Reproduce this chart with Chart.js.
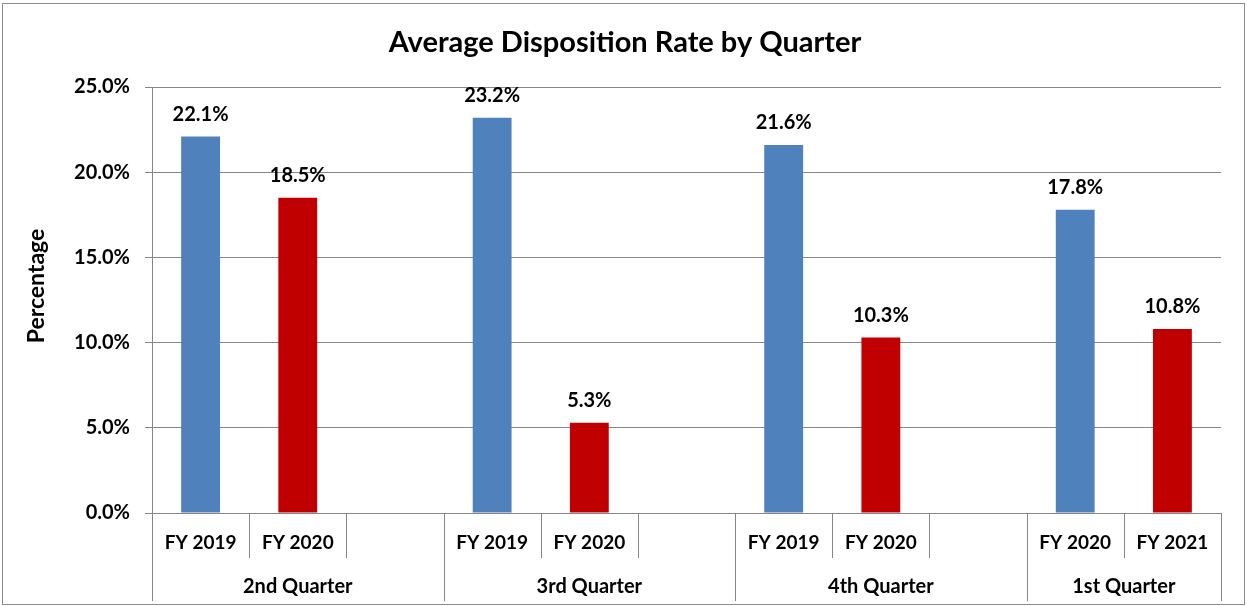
<!DOCTYPE html>
<html>
<head>
<meta charset="utf-8">
<script src="https://cdn.jsdelivr.net/npm/chart.js@4.4.1/dist/chart.umd.min.js"></script>
<style>
  html, body { margin: 0; padding: 0; background: #fff; }
  #wrap { width: 1247px; height: 606px; position: relative; }
</style>
</head>
<body>
<div id="wrap"><canvas id="chart"></canvas></div>
<script>
// --- Data ---
const chartTitle = 'Average Disposition Rate by Quarter';
const yAxisTitle = 'Percentage';
const fyLabels = ['FY 2019', 'FY 2020', '', 'FY 2019', 'FY 2020', '', 'FY 2019', 'FY 2020', '', 'FY 2020', 'FY 2021'];
const quarterLabels = ['2nd Quarter', '3rd Quarter', '4th Quarter', '1st Quarter'];
const quarterSpans = [3, 3, 3, 2];
const priorYearValues = [22.1, 23.2, 21.6, 17.8];
const currentYearValues = [18.5, 5.3, 10.3, 10.8];
const yTicks = [0, 5, 10, 15, 20, 25];

const FONT = 'Lato, "Open Sans", sans-serif';
const GRID = '#868686';

// spread the 4 quarter values onto the 11 category slots
function spread(values, slot) {
    const out = new Array(fyLabels.length).fill(null);
    let start = 0;
    quarterSpans.forEach((span, i) => {
        out[start + slot] = values[i];
        start += span;
    });
    return out;
}

// --- Plugins ---
const frameAndAxis = {
    id: 'frameAndAxis',
    afterDraw(chart) {
        const ctx = chart.ctx;
        const x = chart.scales.x;
        const area = chart.chartArea;
        const half = (x.getPixelForValue(1) - x.getPixelForValue(0)) / 2;

        ctx.save();
        // outer frame
        ctx.strokeStyle = '#8c8c8c';
        ctx.lineWidth = 1;
        ctx.strokeRect(2.5, 3.5, 1242, 601);

        // title
        ctx.fillStyle = '#000';
        ctx.font = 'bold 29px ' + FONT;
        ctx.textAlign = 'center';
        ctx.textBaseline = 'alphabetic';
        ctx.fillText(chartTitle, 625, 52);

        // y axis title
        ctx.save();
        ctx.translate(44, 286);
        ctx.rotate(-Math.PI / 2);
        ctx.font = 'bold 23px ' + FONT;
        ctx.fillText(yAxisTitle, 0, 0);
        ctx.restore();

        // category separators
        ctx.strokeStyle = GRID;
        const groupEnds = [0];
        quarterSpans.reduce((acc, s) => { groupEnds.push(acc + s); return acc + s; }, 0);
        for (let i = 0; i <= fyLabels.length; i++) {
            const px = Math.round(x.getPixelForValue(i) - half) + 0.5;
            const long = groupEnds.includes(i);
            ctx.beginPath();
            ctx.moveTo(px, area.bottom);
            ctx.lineTo(px, long ? 601 : 558);
            ctx.stroke();
        }

        // FY labels
        ctx.font = 'bold 19px ' + FONT;
        fyLabels.forEach((lab, i) => {
            if (lab) ctx.fillText(lab, x.getPixelForValue(i), 549);
        });

        // quarter labels
        ctx.font = 'bold 20px ' + FONT;
        let start = 0;
        quarterLabels.forEach((lab, i) => {
            const left = x.getPixelForValue(start) - half;
            const right = x.getPixelForValue(start + quarterSpans[i] - 1) + half;
            ctx.fillText(lab, (left + right) / 2, 593);
            start += quarterSpans[i];
        });
        ctx.restore();
    }
};

const barValueLabels = {
    id: 'barValueLabels',
    afterDatasetsDraw(chart) {
        const ctx = chart.ctx;
        ctx.save();
        ctx.fillStyle = '#000';
        ctx.font = 'bold 20px ' + FONT;
        ctx.textAlign = 'center';
        ctx.textBaseline = 'alphabetic';
        chart.data.datasets.forEach((ds, di) => {
            chart.getDatasetMeta(di).data.forEach((bar, i) => {
                const v = ds.data[i];
                if (v === null) return;
                ctx.fillText(v.toFixed(1) + '%', bar.x, bar.y - 15.5);
            });
        });
        ctx.restore();
    }
};

// --- Chart ---
new Chart(document.getElementById('chart'), {
    type: 'bar',
    data: {
        labels: fyLabels,
        datasets: [
            {
                label: 'Prior year',
                data: spread(priorYearValues, 0),
                backgroundColor: '#4F81BD'
            },
            {
                label: 'Current year',
                data: spread(currentYearValues, 1),
                backgroundColor: '#C00000'
            }
        ]
    },
    options: {
        responsive: true,
        maintainAspectRatio: false,
        animation: false,
        grouped: false,
        barPercentage: 0.4,
        categoryPercentage: 1,
        layout: { padding: { top: 87, right: 26, left: 0, bottom: 0 } },
        plugins: {
            legend: { display: false },
            title: { display: false },
            tooltip: { enabled: false }
        },
        scales: {
            x: {
                ticks: { display: false },
                grid: { display: false, drawTicks: false },
                border: { display: false },
                afterFit: s => { s.height = 93; }
            },
            y: {
                min: 0,
                max: 25,
                afterBuildTicks: s => { s.ticks = yTicks.map(v => ({ value: v })); },
                afterFit: s => { s.width = 152; },
                ticks: {
                    padding: 15,
                    color: '#000',
                    font: { family: FONT, size: 20, weight: 'bold' },
                    callback: v => v.toFixed(1) + '%'
                },
                grid: { color: GRID, tickLength: 7, drawTicks: true },
                border: { display: true, color: GRID },
                title: { display: false }
            }
        }
    },
    plugins: [frameAndAxis, barValueLabels]
});
</script>
</body>
</html>
